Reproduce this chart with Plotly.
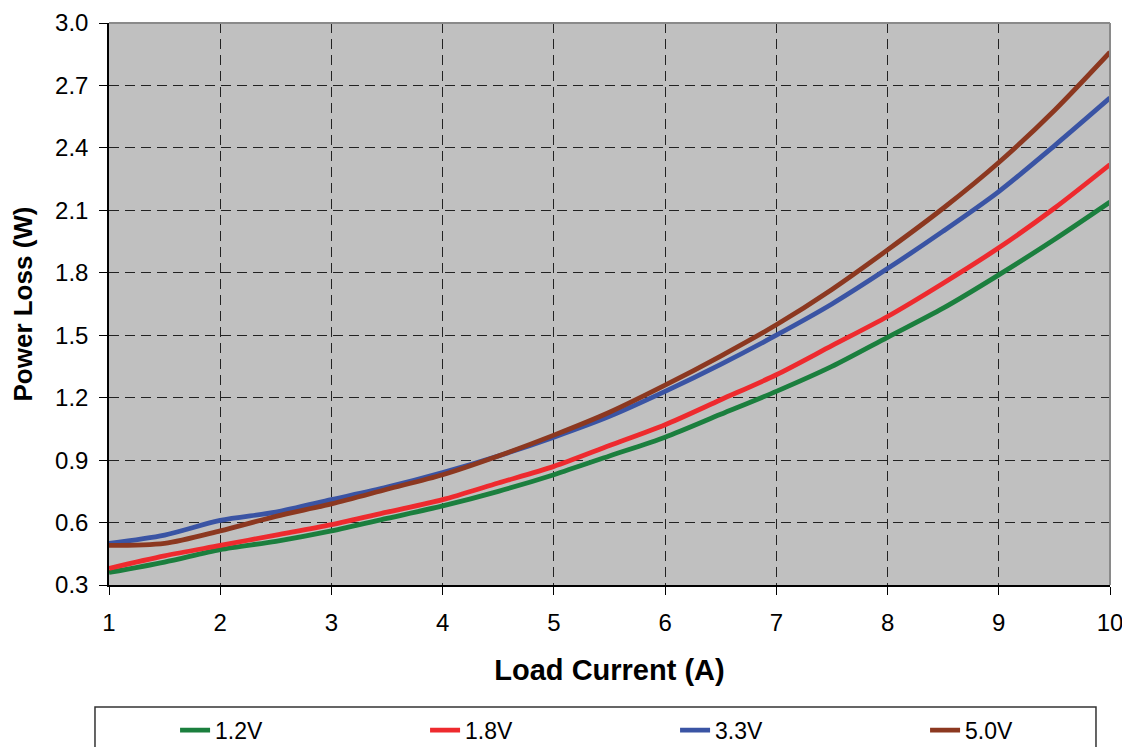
import plotly.graph_objects as go

load_current = [1, 1.5, 2, 2.5, 3, 3.5, 4, 4.5, 5, 5.5, 6, 6.5, 7, 7.5, 8, 8.5, 9, 9.5, 10]
loss_1v2 = [0.36, 0.41, 0.47, 0.51, 0.56, 0.62, 0.68, 0.75, 0.83, 0.92, 1.01, 1.12, 1.23, 1.35, 1.49, 1.63, 1.79, 1.96, 2.14]
loss_1v8 = [0.38, 0.44, 0.49, 0.54, 0.59, 0.65, 0.71, 0.79, 0.87, 0.97, 1.07, 1.19, 1.31, 1.45, 1.59, 1.75, 1.92, 2.11, 2.32]
loss_3v3 = [0.50, 0.54, 0.61, 0.65, 0.71, 0.77, 0.84, 0.92, 1.01, 1.11, 1.23, 1.36, 1.50, 1.65, 1.82, 2.00, 2.19, 2.41, 2.64]
loss_5v0 = [0.49, 0.50, 0.56, 0.63, 0.69, 0.76, 0.83, 0.92, 1.02, 1.13, 1.26, 1.40, 1.55, 1.72, 1.91, 2.11, 2.33, 2.58, 2.86]

series_names = ["1.2V", "1.8V", "3.3V", "5.0V"]
series_values = [loss_1v2, loss_1v8, loss_3v3, loss_5v0]
series_colors = ["#1b7f3e", "#ee2a2e", "#3a54a4", "#8c3820"]

x_ticks = [1, 2, 3, 4, 5, 6, 7, 8, 9, 10]
y_ticks = [0.3, 0.6, 0.9, 1.2, 1.5, 1.8, 2.1, 2.4, 2.7, 3.0]

FONT = "Liberation Sans, Arial, sans-serif"

fig = go.Figure()
for i, (name, vals, col) in enumerate(zip(series_names, series_values, series_colors)):
    fig.add_trace(go.Scatter(
        x=load_current, y=vals, name=name, mode="lines",
        line=dict(color=col, width=4.8, shape="spline", smoothing=0.8),
        legendwidth=205 if i < len(series_names) - 1 else 60,
    ))

fig.update_layout(
    width=1130, height=747,
    margin=dict(l=101, r=28, t=15, b=170, autoexpand=False),
    paper_bgcolor="white",
    plot_bgcolor="#c0c0c0",
    font=dict(family=FONT, color="black", size=24),
    showlegend=True,
    legend=dict(
        orientation="h",
        x=0.066, xanchor="left",
        y=-0.220, yanchor="top",
        bgcolor="rgba(0,0,0,0)",
        borderwidth=0,
        font=dict(size=23, family=FONT),
        itemwidth=30,
    ),
    xaxis=dict(
        range=[1, 10],
        tickvals=x_ticks,
        ticktext=[str(v) for v in x_ticks],
        ticks="outside", ticklen=8, tickcolor="black", tickwidth=1,
        ticklabelstandoff=7,
        showline=True, linecolor="black", linewidth=1.5,
        showgrid=True, gridcolor="#222222", griddash="10px,6px", gridwidth=1,
        zeroline=False,
        title=dict(text="<b>Load Current (A)</b>", font=dict(size=29, family=FONT), standoff=25),
        tickfont=dict(size=24),
    ),
    yaxis=dict(
        range=[0.3, 3.0],
        tickvals=y_ticks,
        ticktext=[f"{v:.1f}" for v in y_ticks],
        ticks="outside", ticklen=8, tickcolor="black", tickwidth=1,
        ticklabelstandoff=6,
        showline=True, linecolor="black", linewidth=1.5,
        showgrid=True, gridcolor="#222222", griddash="10px,6px", gridwidth=1,
        zeroline=False,
        title=dict(text="<b>Power Loss (W)</b>", font=dict(size=26, family=FONT), standoff=15),
        tickfont=dict(size=24),
    ),
    shapes=[
        dict(type="line", xref="paper", yref="paper", x0=0, x1=1, y0=1, y1=1,
             line=dict(color="#8a8a8a", width=2)),
        dict(type="line", xref="paper", yref="paper", x0=1, x1=1, y0=0, y1=1,
             line=dict(color="#8a8a8a", width=2)),
        dict(type="rect", xref="paper", yref="paper",
             x0=-0.014, x1=0.986, y0=-0.217, y1=-0.311,
             line=dict(color="#333333", width=1.5), fillcolor="rgba(0,0,0,0)"),
    ],
)

fig.write_html("out.html")
